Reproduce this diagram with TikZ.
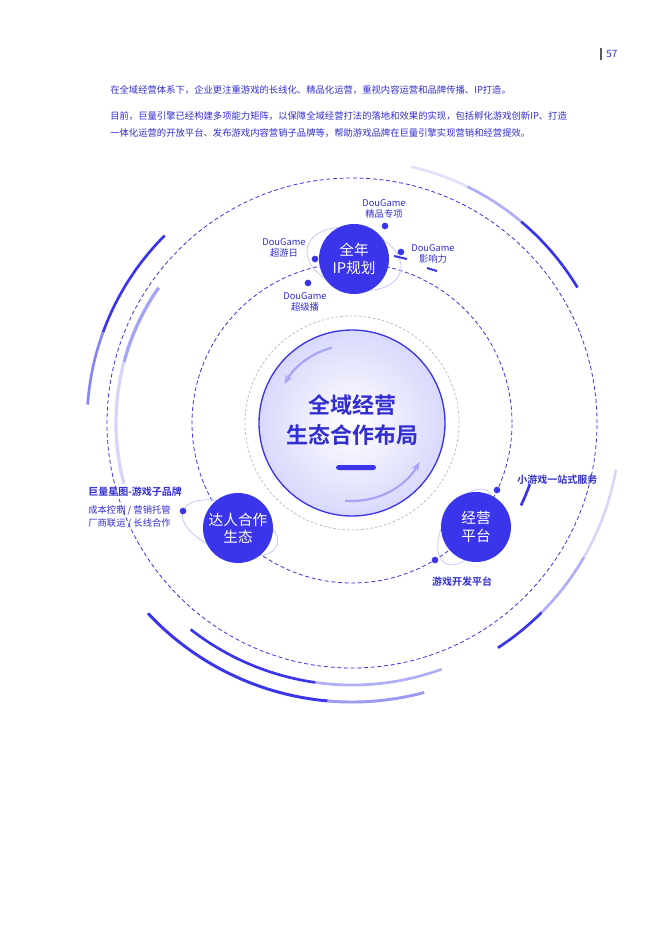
\documentclass[tikz,border=0pt]{standalone}
\usepackage{fontspec}
\setmainfont{Noto Sans CJK SC}
\newfontfamily\cjkbold{Noto Sans CJK SC Bold}
\usetikzlibrary{arrows.meta}
\definecolor{mblue}{RGB}{58,52,235}
\definecolor{tblue}{RGB}{50,46,210}
\definecolor{lav}{RGB}{200,200,250}
\begin{document}
\begin{tikzpicture}[x=0.75pt,y=0.75pt,
  bignode/.style={circle,fill=mblue,minimum size=52.5pt,inner sep=0,text=white,font=\fontsize{11}{13}\selectfont,align=center},
  lbl/.style={text=tblue,font=\fontsize{7}{8}\selectfont,align=center,inner sep=0},
  blbl/.style={text=tblue,font=\cjkbold\fontsize{7.5}{9}\selectfont,inner sep=0},
  dot/.style={circle,fill=mblue,minimum size=5pt,inner sep=0},
  dashc/.style={mblue,dash pattern=on 3pt off 2pt,line width=0.6pt},
  orbit/.style={lav,line width=0.6pt}]
\useasboundingbox (0,0) rectangle (658,-930);
\fill[white] (0,0) rectangle (658,-930);
% header
\draw[gray!70!black,line width=0.8pt] (601,-48) -- (601,-60);
\node[anchor=west,text=tblue,font=\fontsize{7.5}{9}\selectfont,inner sep=0] (pg) at (606,-54) {57};
\node[anchor=west,text=tblue,font=\fontsize{7}{9}\selectfont,inner sep=0] (t1) at (110,-90) {在全域经营体系下，企业更注重游戏的长线化、精品化运营，重视内容运营和品牌传播、IP打造。};
\node[anchor=west,text=tblue,font=\fontsize{7}{9}\selectfont,inner sep=0] (t2) at (110,-116) {目前，巨量引擎已经构建多项能力矩阵，以保障全域经营打法的落地和效果的实现，包括孵化游戏创新IP、打造};
\node[anchor=west,text=tblue,font=\fontsize{7}{9}\selectfont,inner sep=0] (t3) at (110,-133) {一体化运营的开放平台、发布游戏内容营销子品牌等，帮助游戏品牌在巨量引擎实现营销和经营提效。};
\coordinate (C) at (352,-423);
% outer solid arcs
\draw[mblue,line width=2pt] ([shift={(C)}]135:265) arc[start angle=135,end angle=160,radius=265];
\draw[mblue!60,line width=2pt] ([shift={(C)}]160:265) arc[start angle=160,end angle=176,radius=265];
\draw[mblue!45,line width=2.5pt] ([shift={(C)}]145:236) arc[start angle=145,end angle=165,radius=236];
\draw[mblue!20,line width=2.5pt] ([shift={(C)}]165:236) arc[start angle=165,end angle=195,radius=236];
\draw[mblue,line width=2pt] ([shift={(C)}]31:263) arc[start angle=31,end angle=50,radius=263];
\draw[mblue!40,line width=2pt] ([shift={(C)}]50:263) arc[start angle=50,end angle=64,radius=263];
\draw[mblue!15,line width=2pt] ([shift={(C)}]64:263) arc[start angle=64,end angle=77,radius=263];
\draw[mblue,line width=2pt] ([shift={(C)}]-19:188) arc[start angle=-19,end angle=-26,radius=188];
\draw[mblue!20,line width=2pt] ([shift={(C)}]-10:268) arc[start angle=-10,end angle=-30,radius=268];
\draw[mblue!40,line width=2pt] ([shift={(C)}]-30:268) arc[start angle=-30,end angle=-45,radius=268];
\draw[mblue,line width=2pt] ([shift={(C)}]-45:268) arc[start angle=-45,end angle=-57,radius=268];
\draw[mblue,line width=2.2pt] ([shift={(C)}]223:279) arc[start angle=223,end angle=265,radius=279];
\draw[mblue!50,line width=2.2pt] ([shift={(C)}]265:279) arc[start angle=265,end angle=285,radius=279];
\draw[mblue,line width=2pt] ([shift={(C)}]232:262) arc[start angle=232,end angle=262,radius=262];
\draw[mblue!40,line width=2pt] ([shift={(C)}]262:262) arc[start angle=262,end angle=290,radius=262];
% dashed circles
\draw[dashc] (C) circle[radius=245];
\draw[dashc] (C) circle[radius=160];
\draw[gray!50,dash pattern=on 2pt off 1.5pt,line width=0.6pt] (C) circle[radius=107];
% center circle
\shade[inner color=white,outer color=lav!70] (C) circle[radius=93];
\draw[mblue,line width=1pt] (C) circle[radius=93];
\draw[mblue!45,line width=1.6pt,-{Stealth[length=7pt]}] ([shift={(C)}]105:78) arc[start angle=105,end angle=150,radius=78];
\draw[mblue!45,line width=1.6pt,-{Stealth[length=7pt]}] ([shift={(C)}]265:78) arc[start angle=265,end angle=330,radius=78];
\node[text=tblue,font=\cjkbold\fontsize{16.5}{22}\selectfont,align=center] (ctr) at (352,-420) {全域经营\\生态合作布局};
\fill[mblue,rounded corners=2pt] (336,-465) rectangle (376,-470);
% top node
\draw[orbit,rotate around={-15:(354,-259)}] (354,-259) ellipse[x radius=48,y radius=30];
\node[bignode] (ip) at (354,-259) {全年\\IP规划};
\node[dot] (d1) at (385,-226) {};
\node[dot] (d2) at (401,-252) {};
\node[dot] (d3) at (315,-259) {};
\node[dot] (d4) at (308,-283) {};
\draw[mblue,line width=1.5pt] (394,-256) -- (407,-259);
\draw[mblue,line width=1.5pt] (427,-268) -- (437,-271);
\node[lbl] (l1) at (384,-209) {DouGame\\精品专项};
\node[lbl] (l2) at (284,-248) {DouGame\\超游日};
\node[lbl] (l3) at (433,-254) {DouGame\\影响力};
\node[lbl] (l4) at (305,-302) {DouGame\\超级播};
% left node
\draw[orbit,rotate around={-20:(230,-528)}] (230,-528) ellipse[x radius=50,y radius=24];
\node[bignode] (left) at (238,-528) {达人合作\\生态};
\node[dot] (d5) at (183,-511) {};
\node[blbl,anchor=west] (l5) at (88,-492) {巨量星图-游戏子品牌};
\node[lbl,anchor=west] (l6) at (88,-510) {成本控制 / 营销托管};
\node[lbl,anchor=west] (l7) at (88,-523) {厂商联运 / 长线合作};
% right node
\draw[orbit,rotate around={60:(466,-527)}] (466,-527) ellipse[x radius=42,y radius=22];
\node[bignode] (right) at (476,-527) {经营\\平台};
\node[dot] (d6) at (497,-490) {};
\node[dot] (d7) at (435,-560) {};
\node[blbl,anchor=west] (l8) at (517,-480) {小游戏一站式服务};
\node[blbl] (l9) at (462,-582) {游戏开发平台};
\end{tikzpicture}
\end{document}
